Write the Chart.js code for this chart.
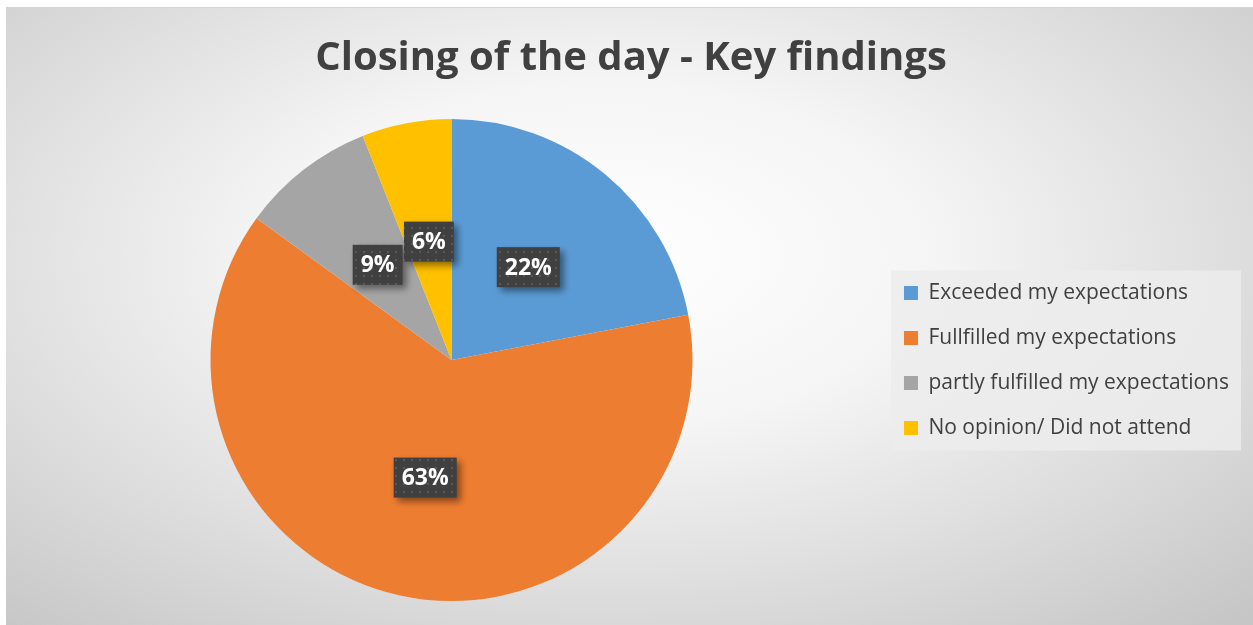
<!DOCTYPE html>
<html>
<head>
<meta charset="utf-8">
<script src="https://cdn.jsdelivr.net/npm/chart.js@4"></script>
<style>
  html, body { margin: 0; padding: 0; background: #fff; }
  #bg {
    position: absolute; left: 6px; top: 7px; width: 1247px; height: 618px;
    border-top: 1px solid #d4d4d4;
    background: radial-gradient(ellipse 75% 80% at 48% 40%, #ffffff 0%, #f5f5f5 35%, #dcdcdc 70%, #c6c6c6 100%);
  }
  #wrap { position: absolute; left: 0; top: 0; width: 1253px; height: 625px; }
</style>
</head>
<body>
<div id="bg"></div>
<div id="wrap"><canvas id="pieChart"></canvas></div>
<script>
const categories = [
  "Exceeded my expectations",
  "Fullfilled my expectations",
  "partly fulfilled my expectations",
  "No opinion/ Did not attend"
];
const shares = [22, 63, 9, 6];
const sliceColors = ["#5B9BD5", "#ED7D31", "#A5A5A5", "#FFC000"];

Chart.defaults.font.family = "'Open Sans', sans-serif";

// dotted dark fill for the data label boxes
function dotPattern(ctx) {
  const c = document.createElement("canvas");
  c.width = 8; c.height = 8;
  const p = c.getContext("2d");
  p.fillStyle = "#404040";
  p.fillRect(0, 0, 8, 8);
  p.fillStyle = "#5a5a5a";
  p.fillRect(3, 3, 2, 2);
  return ctx.createPattern(c, "repeat");
}

const legendBox = {
  id: "legendBox",
  beforeDraw(chart) {
    const boxes = chart.legend.legendHitBoxes;
    if (!boxes || !boxes.length) return;
    const ctx = chart.ctx;
    let x1 = Infinity, y1 = Infinity, x2 = -Infinity, y2 = -Infinity;
    boxes.forEach(b => {
      x1 = Math.min(x1, b.left); y1 = Math.min(y1, b.top);
      x2 = Math.max(x2, b.left + b.width); y2 = Math.max(y2, b.top + b.height);
    });
    ctx.save();
    ctx.fillStyle = "rgba(236,236,236,0.85)";
    ctx.fillRect(x1 - 13, y1 - 12, x2 - x1 + 25, y2 - y1 + 24);
    ctx.restore();
  }
};

const sliceLabels = {
  id: "sliceLabels",
  afterDatasetsDraw(chart) {
    const ctx = chart.ctx;
    const meta = chart.getDatasetMeta(0);
    const fill = dotPattern(ctx);
    ctx.save();
    ctx.font = "bold 23px 'Open Sans', sans-serif";
    ctx.textAlign = "center";
    ctx.textBaseline = "middle";
    meta.data.forEach((arc, i) => {
      const pos = arc.tooltipPosition();
      const txt = shares[i] + "%";
      const w = ctx.measureText(txt).width + 16;
      const h = 40;
      ctx.save();
      ctx.shadowColor = "rgba(0,0,0,0.45)";
      ctx.shadowBlur = 7;
      ctx.shadowOffsetX = 4;
      ctx.shadowOffsetY = 4;
      ctx.fillStyle = fill;
      ctx.fillRect(pos.x - w / 2, pos.y - h / 2, w, h);
      ctx.restore();
      ctx.fillStyle = "#ffffff";
      ctx.fillText(txt, pos.x, pos.y + 1);
    });
    ctx.restore();
  }
};

new Chart(document.getElementById("pieChart"), {
  type: "pie",
  data: {
    labels: categories,
    datasets: [{
      data: shares,
      backgroundColor: sliceColors,
      borderWidth: 0
    }]
  },
  options: {
    responsive: true,
    maintainAspectRatio: false,
    animation: false,
    layout: { padding: { left: 23, right: 14, top: 0, bottom: 24 } },
    plugins: {
      title: {
        display: true,
        text: "Closing of the day - Key findings",
        color: "#404040",
        font: { size: 40, weight: "bold" },
        padding: { top: 35, bottom: 36 }
      },
      legend: {
        position: "right",
        title: { display: true, text: "", font: { size: 10 }, padding: { top: 108, bottom: 0 } },
        labels: {
          color: "#404040",
          font: { size: 21 },
          boxWidth: 14,
          boxHeight: 14,
          padding: 24
        }
      },
      tooltip: { enabled: false }
    }
  },
  plugins: [legendBox, sliceLabels]
});
</script>
</body>
</html>
